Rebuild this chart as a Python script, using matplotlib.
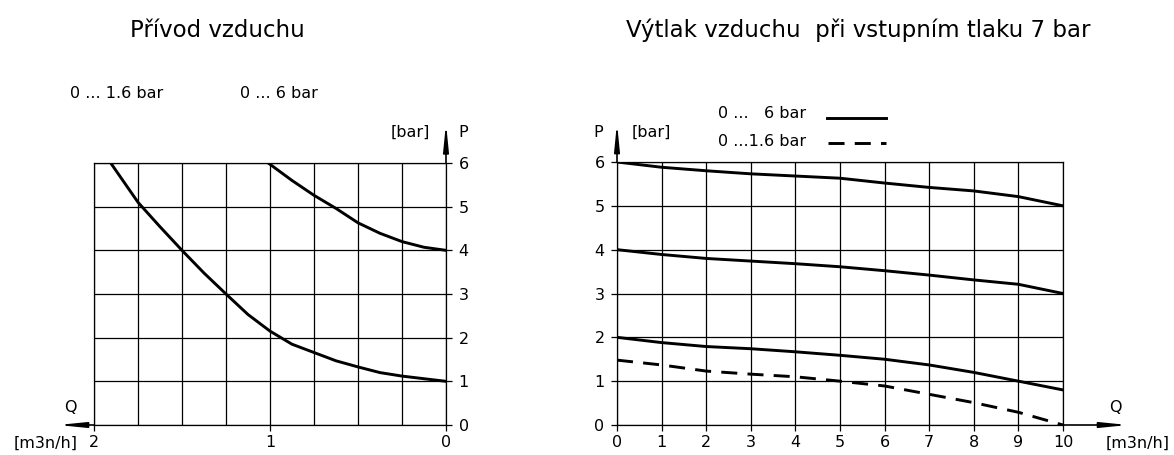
import numpy as np
import matplotlib.pyplot as plt
from matplotlib.ticker import MultipleLocator

# Data: left chart (supply), Q in m3n/h, P in bar
supply_low_q = [1.905, 1.75, 1.625, 1.5, 1.375, 1.25, 1.125, 1.0, 0.875, 0.75, 0.625, 0.5, 0.375, 0.25, 0.125, 0.0]
supply_low_p = [6.0, 5.1, 4.54, 4.0, 3.48, 3.0, 2.53, 2.15, 1.85, 1.66, 1.47, 1.33, 1.2, 1.12, 1.06, 1.0]
supply_high_q = [1.01, 0.875, 0.75, 0.625, 0.5, 0.375, 0.25, 0.125, 0.0]
supply_high_p = [6.0, 5.6, 5.26, 4.96, 4.63, 4.39, 4.2, 4.07, 4.0]

# Data: right chart (relief at 7 bar inlet)
relief_q = [0, 1, 2, 3, 4, 5, 6, 7, 8, 9, 10]
relief_6bar_top = [6.0, 5.88, 5.8, 5.73, 5.68, 5.63, 5.52, 5.42, 5.34, 5.21, 5.0]
relief_6bar_mid = [4.0, 3.89, 3.8, 3.74, 3.68, 3.61, 3.52, 3.42, 3.31, 3.21, 3.0]
relief_6bar_low = [2.0, 1.88, 1.79, 1.74, 1.67, 1.59, 1.5, 1.37, 1.2, 1.0, 0.8]
relief_16bar = [1.48, 1.37, 1.23, 1.16, 1.1, 1.0, 0.89, 0.7, 0.51, 0.29, 0.0]

W, H = 1174, 455
fig = plt.figure(figsize=(W / 100, H / 100), dpi=100)
fs = 11.5
dash = (0, (5.5, 3.5))


def px(x, y):
    return x / W, 1 - y / H


def frame(ax):
    for s in ax.spines.values():
        s.set_color('black')
        s.set_linewidth(0.9)
    ax.grid(True, which='both', color='black', linewidth=0.9)
    ax.set_axisbelow(True)
    ax.tick_params(which='minor', length=0)
    ax.tick_params(which='major', length=4, width=0.9, labelsize=fs, color='black')


def arrow(ax, start, end):
    # thin block-like arrow heads as in the scanned original
    ax.annotate('', xy=end, xytext=start, annotation_clip=False,
                arrowprops=dict(arrowstyle='-|>,head_length=0.8,head_width=0.08',
                                color='black', lw=1.2, mutation_scale=20,
                                shrinkA=0, shrinkB=0))


# Left chart
ax1 = fig.add_axes([94 / W, 1 - 425 / H, 352 / W, 262 / H])
ax1.plot(supply_low_q, supply_low_p, color='black', lw=2.1)
ax1.plot(supply_high_q, supply_high_p, color='black', lw=2.1)
ax1.set_xlim(2, 0)
ax1.set_ylim(0, 6)
ax1.xaxis.set_major_locator(MultipleLocator(1))
ax1.xaxis.set_minor_locator(MultipleLocator(0.25))
ax1.yaxis.set_major_locator(MultipleLocator(1))
ax1.yaxis.tick_right()
frame(ax1)
ax1.tick_params(axis='y', pad=5)
ax1.tick_params(axis='x', pad=3)
arrow(ax1, (2, 0), (2.205, 0))
arrow(ax1, (0, 6), (0, 6.91))

fig.text(*px(70, 93), '0 ... 1.6 bar', fontsize=fs, ha='left', va='center')
fig.text(*px(240, 93), '0 ... 6 bar', fontsize=fs, ha='left', va='center')
fig.text(*px(430, 132), '[bar]', fontsize=fs, ha='right', va='center')
fig.text(*px(463, 132), 'P', fontsize=fs, ha='center', va='center')
fig.text(*px(70, 407), 'Q', fontsize=fs, ha='center', va='center')
fig.text(*px(78, 443), '[m3n/h]', fontsize=fs, ha='right', va='center')

# Right chart
ax2 = fig.add_axes([617 / W, 1 - 425 / H, 446 / W, 263 / H])
ax2.plot(relief_q, relief_6bar_top, color='black', lw=2.1)
ax2.plot(relief_q, relief_6bar_mid, color='black', lw=2.1)
ax2.plot(relief_q, relief_6bar_low, color='black', lw=2.1)
ax2.plot(relief_q, relief_16bar, color='black', lw=2.1, linestyle=dash)
ax2.set_xlim(0, 10)
ax2.set_ylim(0, 6)
ax2.xaxis.set_major_locator(MultipleLocator(1))
ax2.yaxis.set_major_locator(MultipleLocator(1))
frame(ax2)
ax2.tick_params(axis='y', pad=5)
ax2.tick_params(axis='x', pad=3)
arrow(ax2, (10, 0), (11.46, 0))
arrow(ax2, (0, 6), (0, 6.89))

fig.text(*px(598, 132), 'P', fontsize=fs, ha='center', va='center')
fig.text(*px(632, 132), '[bar]', fontsize=fs, ha='left', va='center')
fig.text(*px(1115, 408), 'Q', fontsize=fs, ha='center', va='center')
fig.text(*px(1106, 443), '[m3n/h]', fontsize=fs, ha='left', va='center')

# legend drawn by hand like the original
fig.text(*px(718, 113), '0 ...   6 bar', fontsize=fs, ha='left', va='center')
fig.text(*px(718, 142), '0 ...1.6 bar', fontsize=fs, ha='left', va='center')
fig.add_artist(plt.Line2D([827 / W, 886 / W], [1 - 118 / H] * 2, color='black', lw=2.1))
fig.add_artist(plt.Line2D([828 / W, 886 / W], [1 - 143 / H] * 2, color='black', lw=2.1,
                          linestyle=dash))

# Titles
fig.text(*px(217, 37), 'Přívod vzduchu', fontsize=16.5, ha='center', va='baseline')
fig.text(*px(858, 37), 'Výtlak vzduchu  při vstupním tlaku 7 bar', fontsize=16.5,
         ha='center', va='baseline')

fig.savefig('out.png', dpi=100)
